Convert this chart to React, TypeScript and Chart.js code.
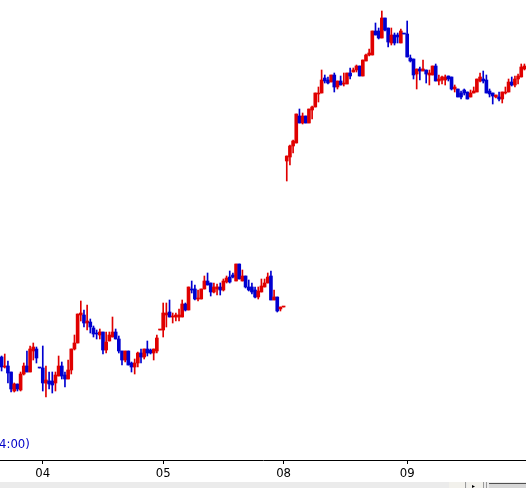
import React, { useEffect, useRef } from 'react';
import { Chart, registerables } from 'chart.js';

Chart.register(...registerables);

// OHLC values per bar (price units)
const opens = [
  103, 93, 94, 88, 69, 76, 70, 86, 94, 88,
  109, 111, 92, 92, 77, 79, 79, 77, 84, 94,
  85, 81, 90, 111, 117, 145, 145, 137, 138, 132,
  127, 125, 128, 110, 119, 123, 128, 121, 109, 100,
  109, 97, 93, 97, 107, 103, 111, 110, 107, 109,
  130, 130, 145, 148, 143, 143, 143, 143, 156, 150,
  171, 171, 161, 161, 171, 179, 177, 168, 171, 173,
  170, 178, 183, 185, 179, 196, 179, 184, 173, 173,
  170, 163, 168, 173, 177, 184, 160, 163, 151, 153,
  299, 303, 314, 317, 344, 337, 344, 337, 350, 353,
  366, 367, 382, 380, 378, 385, 373, 379, 376, 376,
  387, 388, 390, 394, 384, 399, 405, 405, 429, 429,
  422, 442, 432, 417, 425, 425, 417, 426, 426, 402,
  401, 386, 391, 389, 390, 385, 385, 394, 379, 380,
  380, 384, 383, 371, 371, 367, 370, 368, 363, 367,
  368, 379, 381, 380, 369, 367, 363, 363, 361, 367,
  368, 378, 375, 381, 383, 391,
];
const highs = [
  104, 106, 99, 88, 77, 76, 88, 97, 109, 114,
  117, 113, 92, 114, 94, 88, 88, 88, 104, 98,
  88, 100, 111, 125, 146, 159, 150, 155, 141, 134,
  130, 131, 128, 128, 128, 143, 131, 124, 109, 109,
  109, 98, 101, 108, 111, 111, 119, 111, 111, 125,
  130, 157, 157, 160, 147, 147, 151, 160, 157, 173,
  179, 175, 170, 171, 184, 187, 177, 177, 176, 177,
  181, 184, 189, 187, 196, 196, 190, 184, 180, 177,
  173, 173, 181, 181, 187, 189, 170, 163, 153, 153,
  304, 315, 320, 346, 351, 347, 344, 351, 354, 367,
  373, 390, 385, 383, 385, 387, 379, 384, 387, 387,
  392, 392, 395, 394, 400, 406, 411, 429, 437, 432,
  449, 442, 432, 432, 427, 427, 431, 426, 439, 405,
  401, 391, 393, 400, 390, 390, 394, 396, 385, 384,
  385, 384, 383, 375, 371, 369, 371, 368, 370, 373,
  381, 387, 389, 385, 371, 367, 365, 368, 368, 373,
  381, 383, 384, 386, 396, 396,
];
const lows = [
  89, 92, 77, 68, 68, 69, 69, 85, 88, 88,
  100, 97, 92, 69, 63, 71, 67, 69, 84, 81,
  73, 81, 86, 110, 117, 139, 133, 130, 127, 123,
  121, 121, 106, 107, 119, 123, 121, 107, 95, 98,
  95, 88, 86, 93, 97, 101, 104, 106, 100, 107,
  130, 123, 133, 143, 137, 139, 139, 143, 149, 150,
  167, 160, 159, 161, 171, 175, 164, 167, 165, 165,
  169, 177, 177, 182, 179, 181, 179, 172, 169, 166,
  162, 161, 168, 173, 177, 160, 160, 148, 149, 153,
  279, 295, 307, 317, 337, 336, 337, 337, 341, 353,
  358, 367, 377, 376, 378, 368, 371, 375, 374, 376,
  381, 388, 388, 384, 384, 399, 404, 405, 425, 421,
  422, 429, 413, 415, 415, 417, 417, 426, 403, 398,
  381, 371, 380, 389, 377, 375, 385, 379, 375, 376,
  375, 379, 370, 368, 363, 361, 365, 361, 363, 367,
  368, 378, 377, 367, 363, 356, 362, 359, 357, 366,
  368, 374, 373, 376, 383, 390,
];
const closes = [
  93, 94, 87, 71, 76, 71, 86, 94, 88, 111,
  113, 102, 92, 77, 80, 76, 75, 85, 94, 84,
  81, 90, 111, 117, 146, 147, 137, 139, 133, 126,
  126, 128, 110, 118, 125, 128, 121, 109, 100, 109,
  95, 93, 97, 107, 103, 111, 107, 107, 111, 122,
  130, 147, 147, 143, 144, 145, 145, 156, 150, 173,
  170, 161, 162, 171, 179, 175, 168, 173, 173, 170,
  179, 182, 178, 183, 196, 181, 184, 173, 170, 168,
  163, 169, 174, 177, 183, 160, 163, 149, 153, 153,
  304, 314, 319, 346, 337, 344, 337, 351, 353, 367,
  367, 380, 379, 377, 385, 373, 379, 375, 377, 387,
  384, 390, 394, 384, 400, 405, 407, 429, 425, 422,
  442, 430, 418, 425, 417, 423, 429, 426, 403, 399,
  385, 391, 389, 391, 386, 387, 394, 379, 381, 383,
  383, 381, 371, 373, 363, 363, 367, 361, 367, 369,
  381, 383, 379, 367, 366, 364, 365, 361, 368, 368,
  378, 375, 381, 384, 393, 394,
];

// Day tick labels and the bar each one sits on
const dayLabels = ['04', '05', '08', '09'];
const dayTickBars = [13, 51, 89, 128];

const sessionNote = '4:00)';

const UP = '#e00000';
const DOWN = '#0000d0';
const AXIS_FONT = "'Liberation Sans Narrow', 'DejaVu Sans Condensed', 'Liberation Sans', sans-serif";

const isUp = (i: number) =>
  closes[i] > opens[i] ||
  (closes[i] === opens[i] && (i === 0 || closes[i] >= closes[i - 1]));

const chromePlugin = {
  id: 'chrome',
  afterDraw(chart: any) {
    const ctx = chart.ctx as CanvasRenderingContext2D;
    const W = chart.width;
    const H = chart.height;
    ctx.save();
    ctx.font = `13px ${AXIS_FONT}`;
    ctx.fillStyle = '#0000c8';
    ctx.textBaseline = 'middle';
    ctx.textAlign = 'left';
    ctx.fillText(sessionNote, -1, 444.5);

    // scrollbar strip at the very bottom
    ctx.fillStyle = '#ebebeb';
    ctx.fillRect(0, 482, W, H - 482);
    ctx.fillStyle = '#f2f1ec';
    ctx.fillRect(449, 482, 16, H - 482);
    ctx.fillRect(467, 482, 16, H - 482);
    ctx.fillStyle = '#9a9a9a';
    ctx.fillRect(465, 482, 1, H - 482);
    ctx.fillRect(483, 482, 1, H - 482);
    ctx.fillRect(486, 482, 1, H - 482);
    ctx.fillStyle = '#000';
    ctx.beginPath();
    ctx.moveTo(472, 485);
    ctx.lineTo(475, 486.5);
    ctx.lineTo(472, 488);
    ctx.closePath();
    ctx.fill();
    ctx.fillStyle = '#d6d6d6';
    ctx.fillRect(489, 483, W - 489, H - 483);
    ctx.fillStyle = '#505050';
    ctx.fillRect(489, 483, W - 489, 1);
    ctx.restore();
  },
};

export default function App() {
  const ref = useRef<HTMLCanvasElement | null>(null);

  useEffect(() => {
    document.body.style.margin = '0';
    const canvas = ref.current;
    if (!canvas) return;
    const labels = opens.map((_, i) => {
      const k = dayTickBars.indexOf(i);
      return k >= 0 ? dayLabels[k] : '';
    });
    const colors = opens.map((_, i) => (isUp(i) ? UP : DOWN));

    const chart = new Chart(canvas, {
      type: 'bar',
      data: {
        labels,
        datasets: [
          {
            label: 'wick',
            data: lows.map((l, i) => [l, highs[i]]) as any,
            backgroundColor: colors,
            borderWidth: 0,
            barThickness: 1,
            grouped: false,
          } as any,
          {
            label: 'body',
            data: opens.map((o, i) => [o, closes[i]]) as any,
            backgroundColor: colors,
            borderWidth: 0,
            barThickness: 3,
            minBarLength: 1,
            grouped: false,
          } as any,
        ],
      },
      options: {
        animation: false,
        responsive: false,
        maintainAspectRatio: false,
        devicePixelRatio: 1,
        layout: { padding: { left: 0, right: 0, top: 0, bottom: 4.4 } },
        plugins: { legend: { display: false }, tooltip: { enabled: false } },
        scales: {
          x: {
            type: 'category',
            offset: true,
            position: 'bottom',
            grid: {
              display: true,
              drawOnChartArea: false,
              drawTicks: true,
              tickLength: 4,
              tickColor: '#000',
              offset: false,
              lineWidth: 1,
            },
            border: { display: true, color: '#000', width: 1 },
            ticks: {
              autoSkip: false,
              maxRotation: 0,
              padding: 2,
              color: '#000',
              font: { family: AXIS_FONT, size: 13 },
            },
            afterBuildTicks: (scale: any) => {
              scale.ticks = scale.ticks.filter((t: any) => dayTickBars.includes(t.value));
            },
          },
          y: { display: false, min: 0, max: 460 },
        },
      } as any,
      plugins: [chromePlugin],
    });
    return () => chart.destroy();
  }, []);

  return (
    <div style={{ position: 'fixed', left: 0, top: 0, width: 526, height: 488, background: '#fff' }}>
      <canvas ref={ref} width={526} height={488} style={{ display: 'block' }} />
    </div>
  );
}
